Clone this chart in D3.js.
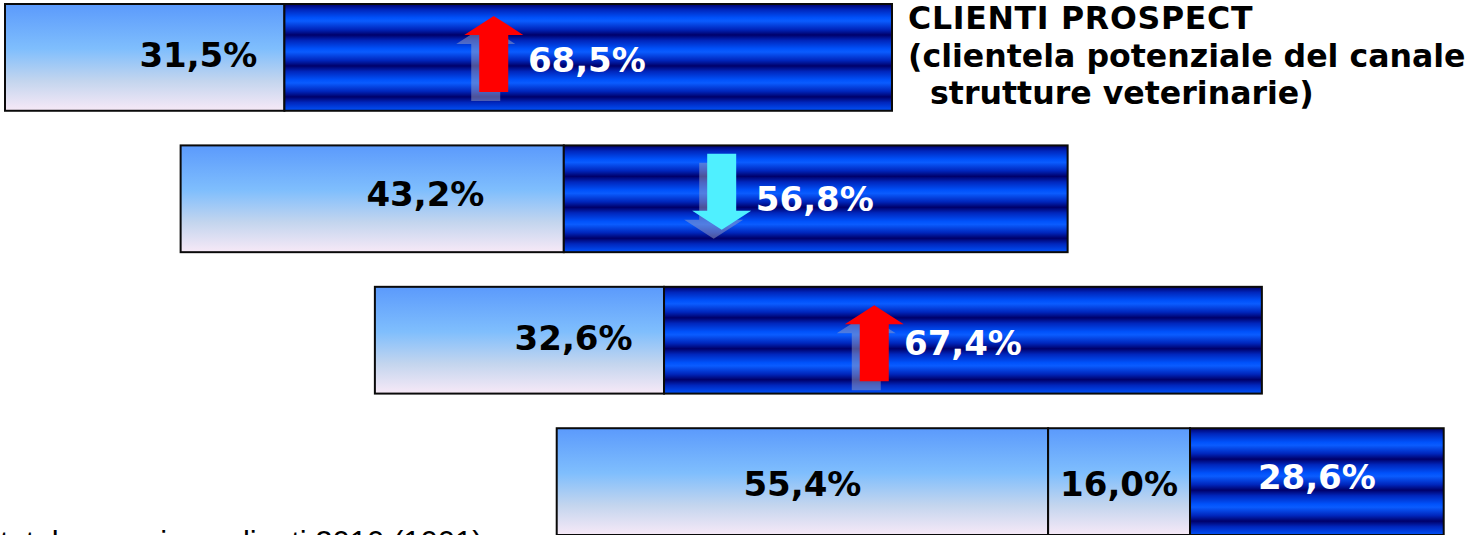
<!DOCTYPE html>
<html>
<head>
<meta charset="utf-8">
<script src="https://cdn.jsdelivr.net/npm/d3@7/dist/d3.min.js"></script>
<style>
  html, body { margin: 0; padding: 0; background: #fff; }
  svg { display: block; }
</style>
</head>
<body>
<svg id="chart" width="1471" height="535"></svg>
<script>
// ---- data ----
const rowKeys    = ["r1", "r2", "r3", "r4"];
const lightShare = [31.5, 43.2, 32.6, 55.4];   // first (light) segment, %
const midShare   = [0, 0, 0, 16.0];            // extra light segment, %
const darkShare  = [68.5, 56.8, 67.4, 28.6];   // striped segment, %
const trend      = ["up", "down", "up", ""];

const titleLines = ["CLIENTI PROSPECT", "(clientela potenziale del canale", "  strutture veterinarie)"];
const footnote   = "totale campione clienti 2010 (1001)";

// ---- layout (in % of a bar's length) ----
const rowStart     = [0, 19.8, 41.7, 62.2];
const lightLabelAt = [21.8, 27.6, 22.4, null];
const darkLabelAt  = [65.6, 71.5, 66.3, null];
const arrowAt      = [55.1, 61.0, 56.3, null];
const arrowDy      = [-3.5, -7, 3, 0];
const lightDy      = [9.5, 7, 9.5, 14];
const darkDy       = [14.5, 12, 14.5, 7.5];

const fmt = v => d3.format(".1f")(v).replace(".", ",") + "%";

const svg = d3.select("#chart");

const x = d3.scaleLinear().domain([0, 100]).range([5, 892]);
const y = d3.scaleBand().domain(rowKeys).range([4, 535]).paddingInner(0.245);

// ---- fills ----
const defs = svg.append("defs");
const light = defs.append("linearGradient")
  .attr("id", "lightFill").attr("x1", 0).attr("y1", 0).attr("x2", 0).attr("y2", 1);
[[0, "#5b9afc"], [0.42, "#7fbefd"], [0.72, "#c3d5ee"], [1, "#f7e9f7"]]
  .forEach(([o, c]) => light.append("stop").attr("offset", o).attr("stop-color", c));

const stripe = defs.append("linearGradient")
  .attr("id", "stripeFill").attr("spreadMethod", "repeat")
  .attr("x1", 0).attr("y1", 0).attr("x2", 0).attr("y2", 0.29);
[[0, "#00006a"], [0.18, "#0026bc"], [0.45, "#0052fb"], [0.55, "#0a5cff"], [0.82, "#0026bc"], [1, "#00006a"]]
  .forEach(([o, c]) => stripe.append("stop").attr("offset", o).attr("stop-color", c));

// ---- segments ----
const segs = [];
rowKeys.forEach((k, i) => {
  let start = rowStart[i];
  [[lightShare[i], "light"], [midShare[i], "light"], [darkShare[i], "dark"]].forEach(([v, kind]) => {
    if (v > 0) { segs.push({ k, i, start, v, kind }); start += v; }
  });
});

svg.append("g").selectAll("rect").data(segs).join("rect")
  .attr("x", d => x(d.start))
  .attr("y", d => y(d.k))
  .attr("width", d => x(d.start + d.v) - x(d.start))
  .attr("height", y.bandwidth())
  .attr("fill", d => d.kind === "light" ? "url(#lightFill)" : "url(#stripeFill)")
  .attr("stroke", "#0a0a0a")
  .attr("stroke-width", 2);

// ---- trend arrows ----
const AH = 76, HEAD = 19, HW = 29.5, SW = 14.5;
function arrowPath(cx, cy, dir) {
  const top = cy - AH / 2, bot = cy + AH / 2;
  if (dir === "up") {
    return `M${cx},${top} L${cx + HW},${top + HEAD} L${cx + SW},${top + HEAD} L${cx + SW},${bot}
            L${cx - SW},${bot} L${cx - SW},${top + HEAD} L${cx - HW},${top + HEAD} Z`;
  }
  return `M${cx},${bot} L${cx + HW},${bot - HEAD} L${cx + SW},${bot - HEAD} L${cx + SW},${top}
          L${cx - SW},${top} L${cx - SW},${bot - HEAD} L${cx - HW},${bot - HEAD} Z`;
}
const arrows = rowKeys.map((k, i) => ({ k, i, dir: trend[i] })).filter(d => d.dir);
const ax = d => x(rowStart[d.i] + arrowAt[d.i]);
const ay = d => y(d.k) + y.bandwidth() / 2 + arrowDy[d.i];

svg.append("g").selectAll("path").data(arrows).join("path")
  .attr("d", d => arrowPath(ax(d) - 8, ay(d) + 9, d.dir))
  .attr("fill", "#9aa2c4").attr("opacity", 0.5);
svg.append("g").selectAll("path").data(arrows).join("path")
  .attr("d", d => arrowPath(ax(d), ay(d), d.dir))
  .attr("fill", d => d.dir === "up" ? "#ff0000" : "#4ff0ff");

// ---- value labels ----
const labels = [];
segs.forEach(d => {
  let cx, dy;
  if (d.i === 3) { cx = d.start + d.v / 2; dy = d.kind === "light" ? lightDy[3] : darkDy[3]; }
  else if (d.kind === "light") { cx = rowStart[d.i] + lightLabelAt[d.i]; dy = lightDy[d.i]; }
  else { cx = rowStart[d.i] + darkLabelAt[d.i]; dy = darkDy[d.i]; }
  labels.push({ ...d, cx, dy });
});
svg.append("g").selectAll("text").data(labels).join("text")
  .attr("x", d => x(d.cx))
  .attr("y", d => y(d.k) + y.bandwidth() / 2 + d.dy)
  .attr("text-anchor", "middle")
  .attr("font-family", "'DejaVu Sans', Verdana, sans-serif")
  .attr("font-weight", "bold")
  .attr("font-size", 34)
  .attr("fill", d => d.kind === "light" ? "#000" : "#fff")
  .text(d => fmt(d.v));

// ---- title ----
svg.append("text")
  .attr("x", 908).attr("y", 29)
  .attr("font-family", "'DejaVu Sans', Verdana, sans-serif")
  .attr("font-weight", "bold").attr("font-size", 31.6)
  .selectAll("tspan").data(titleLines).join("tspan")
  .attr("x", 908).attr("dy", (d, i) => i === 0 ? 0 : 37.5)
  .attr("letter-spacing", (d, i) => i === 0 ? 0.7 : 0)
  .style("white-space", "pre")
  .text(d => d);

// ---- footnote (runs off the bottom edge) ----
svg.append("text")
  .attr("x", 0).attr("y", 553)
  .attr("font-family", "'Liberation Sans', Arial, sans-serif")
  .attr("font-size", 31).attr("fill", "#000")
  .text(footnote);
</script>
</body>
</html>
